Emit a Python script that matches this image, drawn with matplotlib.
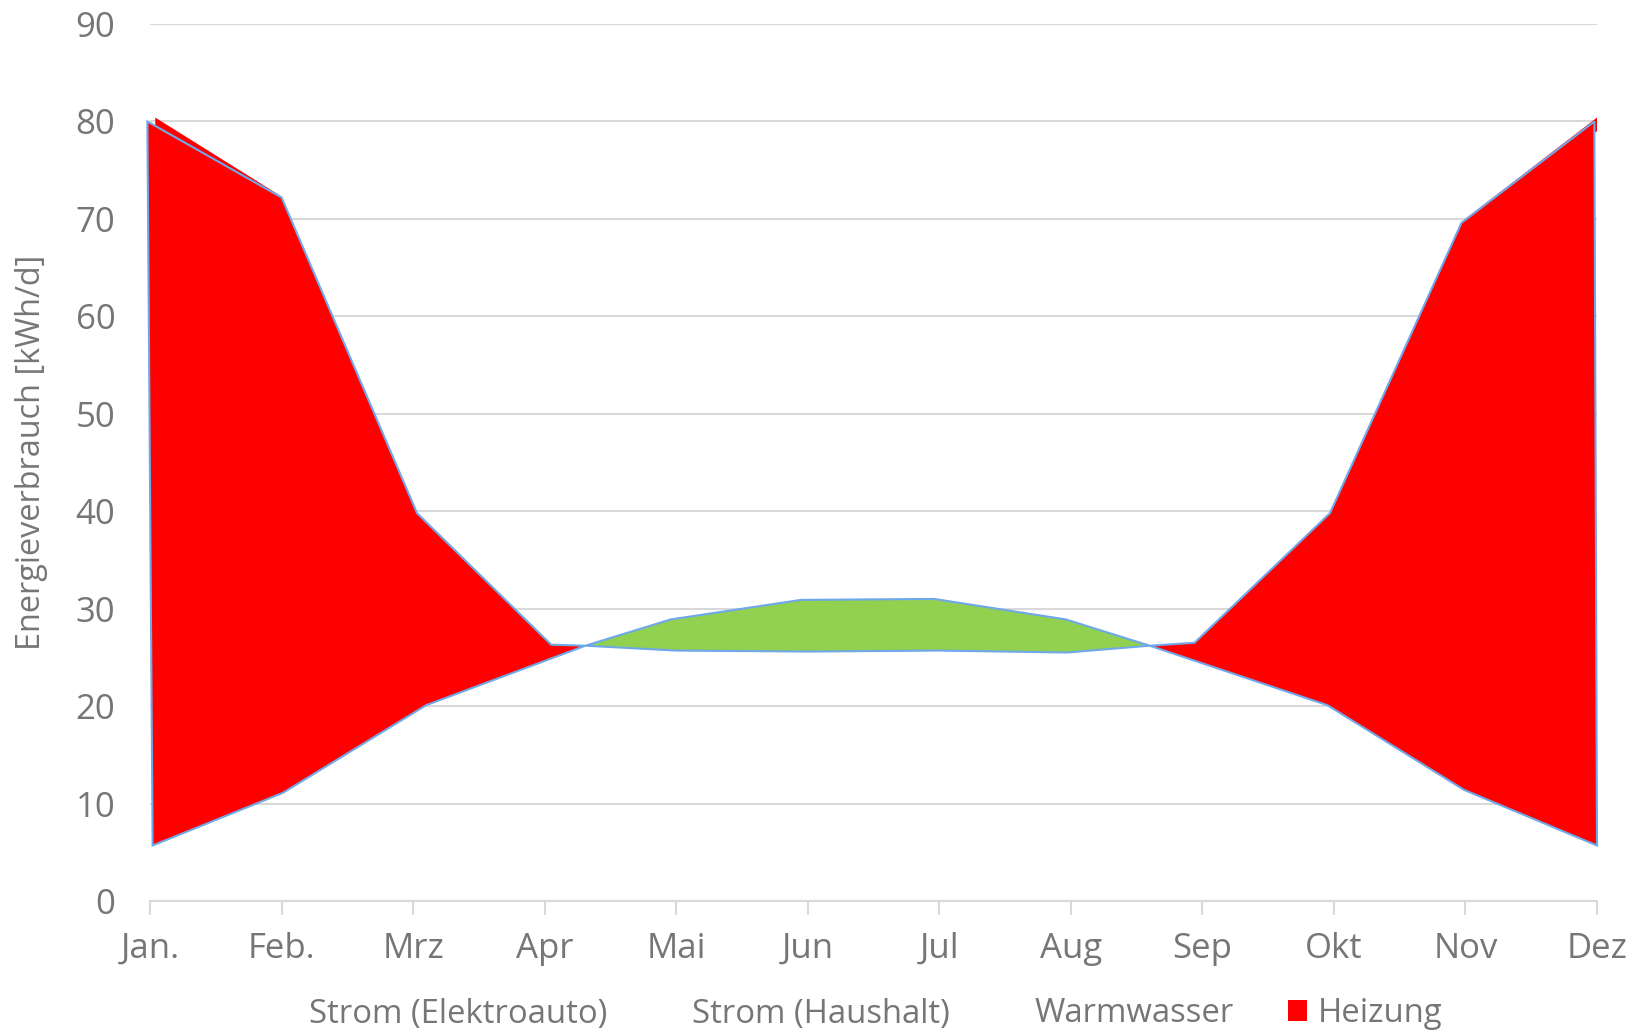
import matplotlib.pyplot as plt
from matplotlib.patches import Polygon, Patch

# chart data (x in months, 0 = Jan.)
MONTHS = ['Jan.', 'Feb.', 'Mrz', 'Apr', 'Mai', 'Jun', 'Jul', 'Aug', 'Sep', 'Okt', 'Nov', 'Dez']
upper_x = [-0.02, 1.00, 2.03, 3.05, 3.31, 3.96, 4.95, 5.96, 6.96, 7.60, 7.94, 8.97, 9.97, 10.98]
upper_y = [80.0, 72.2, 39.8, 26.3, 26.2, 28.9, 30.9, 31.0, 28.9, 26.2, 26.5, 39.8, 69.6, 80.0]
lower_x = [0.02, 1.01, 2.10, 3.31, 4.00, 5.00, 6.00, 6.97, 7.60, 8.95, 9.99, 11.0]
lower_y = [5.7, 11.1, 20.1, 26.2, 25.7, 25.6, 25.7, 25.5, 26.2, 20.1, 11.4, 5.7]
LEGEND = ['Strom (Elektroauto)', 'Strom (Haushalt)', 'Warmwasser', 'Heizung']

RED = '#ff0000'
GREEN = '#92d050'
EDGE = '#6fa8e8'
TEXT = '#767676'
GRID = '#d9d9d9'

fig = plt.figure(figsize=(16.31, 10.33), dpi=100)
ax = fig.add_axes([150 / 1631, 1 - 901 / 1033, 1447 / 1631, 877 / 1033])


def band(u0, u1, l0, l1):
    pts = list(zip(upper_x[u0:u1], upper_y[u0:u1]))
    pts += list(zip(lower_x[l0:l1], lower_y[l0:l1]))[::-1]
    return pts


# red slivers peeking out at the two outer corners
ax.add_patch(Polygon([(0.04, 80.4), (1.0, 72.3), (0.04, 79.0)], facecolor=RED,
                     edgecolor='none', clip_on=False, zorder=2))
ax.add_patch(Polygon([(11.0, 80.4), (9.97, 69.7), (11.0, 79.0)], facecolor=RED,
                     edgecolor='none', clip_on=False, zorder=2))

# segments split at the crossing points (upper idx 4 / 9, lower idx 3 / 8)
segs = [(band(0, 5, 0, 4), RED), (band(4, 10, 3, 9), GREEN), (band(9, 14, 8, 12), RED)]
for pts, col in segs:
    ax.add_patch(Polygon(pts, closed=True, facecolor=col, edgecolor=EDGE,
                         linewidth=1.5, clip_on=False, zorder=3))

ax.set_xlim(0, 11)
ax.set_ylim(0, 90)
ax.set_yticks(range(0, 91, 10))
ax.set_xticks(range(12))
ax.set_xticklabels(MONTHS)
ax.grid(axis='y', color=GRID, linewidth=1.5)
ax.set_axisbelow(True)
for s in ['top', 'right', 'left']:
    ax.spines[s].set_visible(False)
ax.spines['bottom'].set_color(GRID)
ax.spines['bottom'].set_linewidth(1.5)
ax.tick_params(axis='y', length=0, pad=25, labelsize=25, labelcolor=TEXT)
ax.tick_params(axis='x', length=10, width=1.5, color=GRID, pad=12, labelsize=25, labelcolor=TEXT)
for lab in ax.get_xticklabels() + ax.get_yticklabels():
    lab.set_family('Open Sans')

fig.text(32 / 1631, 1 - 452 / 1033, 'Energieverbrauch [kWh/d]', rotation=90, ha='center', va='center',
         fontsize=23.4, color=TEXT, family='Open Sans')

handles = [Patch(facecolor='none', edgecolor='none'),
           Patch(facecolor='none', edgecolor='none'),
           Patch(facecolor='none', edgecolor='none'),
           Patch(facecolor=RED, edgecolor='none')]
leg = fig.legend(handles, LEGEND, loc='center', bbox_to_anchor=(0.528, 1 - 1014 / 1033), ncol=4,
                 frameon=False, handlelength=0.57, handleheight=0.6, handletextpad=0.32,
                 columnspacing=1.67, prop={'family': 'Open Sans', 'size': 23.7})
for t in leg.get_texts():
    t.set_color(TEXT)

plt.savefig('out.png', dpi=100)
